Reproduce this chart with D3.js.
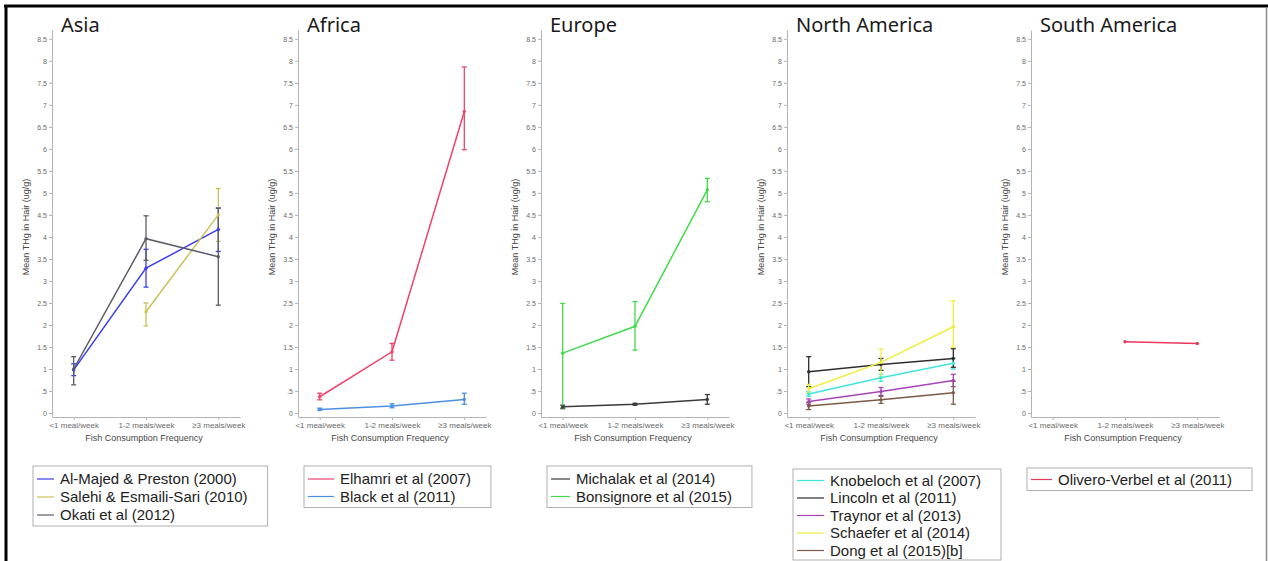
<!DOCTYPE html>
<html>
<head>
<meta charset="utf-8">
<script src="https://cdn.jsdelivr.net/npm/d3@7"></script>
<style>
  html, body { margin: 0; padding: 0; background: #fff; }
  svg { display: block; }
</style>
</head>
<body>
<svg id="chart" width="1268" height="561"></svg>
<script>
// ---- Data ---------------------------------------------------------------
const categories = ["<1 meal/week", "1-2 meals/week", "\u22653 meals/week"];
const regions = ["Asia", "Africa", "Europe", "North America", "South America"];
const yTickValues = [0, 0.5, 1, 1.5, 2, 2.5, 3, 3.5, 4, 4.5, 5, 5.5, 6, 6.5, 7, 7.5, 8, 8.5];
const yTickLabels = ["0", ".5", "1", "1.5", "2", "2.5", "3", "3.5", "4", "4.5", "5", "5.5", "6", "6.5", "7", "7.5", "8", "8.5"];

// Mean THg in hair (ug/g) per consumption category, with error bar limits
// Asia
const alMajedMean = [0.98, 3.29, 4.17];
const alMajedLo   = [0.85, 2.86, 3.67];
const alMajedHi   = [1.12, 3.72, 4.66];
const salehiMean  = [null, 2.30, 4.50];
const salehiLo    = [null, 1.98, 3.90];
const salehiHi    = [null, 2.50, 5.10];
const okatiMean   = [1.00, 3.96, 3.55];
const okatiLo     = [0.64, 3.47, 2.45];
const okatiHi     = [1.28, 4.48, 4.65];
// Africa
const elhamriMean = [0.37, 1.39, 6.85];
const elhamriLo   = [0.30, 1.20, 5.98];
const elhamriHi   = [0.45, 1.58, 7.86];
const blackMean   = [0.08, 0.16, 0.31];
const blackLo     = [0.06, 0.12, 0.20];
const blackHi     = [0.11, 0.21, 0.45];
// Europe
const michalakMean   = [0.14, 0.20, 0.31];
const michalakLo     = [0.10, 0.18, 0.20];
const michalakHi     = [0.18, 0.22, 0.42];
const bonsignoreMean = [1.36, 1.97, 5.07];
const bonsignoreLo   = [0.12, 1.43, 4.80];
const bonsignoreHi   = [2.49, 2.53, 5.33];
// North America
const knobelochMean = [0.43, 0.80, 1.13];
const knobelochLo   = [0.38, 0.72, 1.00];
const knobelochHi   = [0.48, 0.88, 1.25];
const lincolnMean   = [0.94, 1.10, 1.24];
const lincolnLo     = [0.60, 0.97, 1.04];
const lincolnHi     = [1.28, 1.24, 1.46];
const traynorMean   = [0.26, 0.49, 0.74];
const traynorLo     = [0.20, 0.40, 0.60];
const traynorHi     = [0.32, 0.58, 0.88];
const schaeferMean  = [0.55, 1.15, 1.96];
const schaeferLo    = [0.45, 0.82, 1.50];
const schaeferHi    = [0.65, 1.45, 2.55];
const dongMean      = [0.16, 0.30, 0.46];
const dongLo        = [0.08, 0.22, 0.20];
const dongHi        = [0.24, 0.38, 0.72];
// South America
const oliveroMean = [null, 1.62, 1.58];

// Series table built from the arrays above
const series = [
  { region: "Asia", name: "Al-Majed & Preston (2000)", color: "#3d3df0", mean: alMajedMean, lo: alMajedLo, hi: alMajedHi },
  { region: "Asia", name: "Salehi & Esmaili-Sari (2010)", color: "#cbc25a", mean: salehiMean, lo: salehiLo, hi: salehiHi },
  { region: "Asia", name: "Okati et al (2012)", color: "#5c5c68", mean: okatiMean, lo: okatiLo, hi: okatiHi },
  { region: "Africa", name: "Elhamri et al (2007)", color: "#f0426b", mean: elhamriMean, lo: elhamriLo, hi: elhamriHi },
  { region: "Africa", name: "Black et al (2011)", color: "#4d8fe0", mean: blackMean, lo: blackLo, hi: blackHi },
  { region: "Europe", name: "Michalak et al (2014)", color: "#3a3a3a", mean: michalakMean, lo: michalakLo, hi: michalakHi },
  { region: "Europe", name: "Bonsignore et al (2015)", color: "#3fdc4a", mean: bonsignoreMean, lo: bonsignoreLo, hi: bonsignoreHi },
  { region: "North America", name: "Knobeloch et al (2007)", color: "#3fe6de", mean: knobelochMean, lo: knobelochLo, hi: knobelochHi },
  { region: "North America", name: "Lincoln et al (2011)", color: "#2e2e2e", mean: lincolnMean, lo: lincolnLo, hi: lincolnHi },
  { region: "North America", name: "Traynor et al (2013)", color: "#a844b8", mean: traynorMean, lo: traynorLo, hi: traynorHi },
  { region: "North America", name: "Schaefer et al (2014)", color: "#f0ee3c", mean: schaeferMean, lo: schaeferLo, hi: schaeferHi },
  { region: "North America", name: "Dong et al (2015)[b]", color: "#7d5a48", mean: dongMean, lo: dongLo, hi: dongHi },
  { region: "South America", name: "Olivero-Verbel et al (2011)", color: "#e8385c", mean: oliveroMean, lo: null, hi: null }
];

// ---- Layout -------------------------------------------------------------
const panelAxisX = [52, 298, 541, 787, 1031];
const plotWidth = 188;
const yTop = 30, yBottom = 417;
const legendLayout = [
  { x: 33, y: 466, textOffset: 27, first: 13, row: 18 },
  { x: 304, y: 466, textOffset: 36, first: 13, row: 17.5 },
  { x: 547, y: 466, textOffset: 29, first: 13, row: 17.5 },
  { x: 793, y: 469, textOffset: 37, first: 11.5, row: 17.5 },
  { x: 1027, y: 468, textOffset: 31, first: 11.5, row: 17.5 }
];

const svg = d3.select("#chart");

// figure frame
svg.append("line").attr("x1", 4).attr("x2", 1268).attr("y1", 6).attr("y2", 6)
  .attr("stroke", "#000").attr("stroke-width", 3);
svg.append("line").attr("x1", 6).attr("x2", 6).attr("y1", 5).attr("y2", 561)
  .attr("stroke", "#000").attr("stroke-width", 3);
svg.append("line").attr("x1", 1266.5).attr("x2", 1266.5).attr("y1", 7).attr("y2", 561)
  .attr("stroke", "#8a8a8a").attr("stroke-width", 1.5);

const y = d3.scaleLinear().domain([-0.09, 8.7]).range([yBottom, yTop]);

regions.forEach((region, pi) => {
  const ax = panelAxisX[pi];
  const x = d3.scalePoint().domain(categories).range([ax, ax + plotWidth]).padding(0.3);
  const g = svg.append("g");

  // title
  g.append("text").attr("x", ax + 9).attr("y", 32)
    .attr("font-family", "'Noto Sans', sans-serif").attr("font-size", 20)
    .attr("fill", "#1a1a1a").text(region);

  // y axis
  const yAxis = g.append("g").attr("transform", `translate(${ax},0)`)
    .call(d3.axisLeft(y).tickValues(yTickValues)
      .tickFormat((d, i) => yTickLabels[i]).tickSize(3).tickSizeOuter(0).tickPadding(2));
  yAxis.selectAll("path, line").attr("stroke", "#b4b4b4");
  yAxis.selectAll("text").attr("font-family", "'Liberation Sans', Arial, sans-serif")
    .attr("font-size", 7).attr("fill", "#6a6a6a");

  // x axis
  const xAxis = g.append("g").attr("transform", `translate(0,${yBottom})`)
    .call(d3.axisBottom(x).tickSize(3).tickSizeOuter(0).tickPadding(2));
  xAxis.selectAll("path, line").attr("stroke", "#b4b4b4");
  xAxis.selectAll("text").attr("font-family", "'Liberation Sans', Arial, sans-serif")
    .attr("font-size", 8).attr("fill", "#6a6a6a");

  // axis titles
  g.append("text").attr("transform", `translate(${ax - 23},227) rotate(-90)`)
    .attr("text-anchor", "middle").attr("font-family", "'Liberation Sans', Arial, sans-serif")
    .attr("font-size", 9).attr("fill", "#474747").text("Mean THg in Hair (ug/g)");
  g.append("text").attr("x", ax + plotWidth / 2 - 2).attr("y", 441)
    .attr("text-anchor", "middle").attr("font-family", "'Liberation Sans', Arial, sans-serif")
    .attr("font-size", 9).attr("fill", "#474747").text("Fish Consumption Frequency");

  const regionSeries = series.filter(s => s.region === region);

  // error bars
  regionSeries.forEach(s => {
    if (!s.lo) return;
    categories.forEach((c, i) => {
      if (s.mean[i] == null) return;
      const cx = x(c);
      const eg = g.append("g").attr("stroke", s.color).attr("stroke-width", 1.3);
      eg.append("line").attr("x1", cx).attr("x2", cx).attr("y1", y(s.lo[i])).attr("y2", y(s.hi[i]));
      eg.append("line").attr("x1", cx - 2.5).attr("x2", cx + 2.5).attr("y1", y(s.lo[i])).attr("y2", y(s.lo[i]));
      eg.append("line").attr("x1", cx - 2.5).attr("x2", cx + 2.5).attr("y1", y(s.hi[i])).attr("y2", y(s.hi[i]));
    });
  });

  // lines and points
  regionSeries.forEach(s => {
    const pts = categories.map((c, i) => ({ c, v: s.mean[i] })).filter(d => d.v != null);
    const line = d3.line().x(d => x(d.c)).y(d => y(d.v));
    g.append("path").datum(pts).attr("d", line).attr("fill", "none")
      .attr("stroke", s.color).attr("stroke-width", 1.5);
    g.selectAll(null).data(pts).enter().append("circle")
      .attr("cx", d => x(d.c)).attr("cy", d => y(d.v)).attr("r", 1.7)
      .attr("fill", s.color);
  });

  // legend
  const L = legendLayout[pi];
  const lg = svg.append("g");
  const box = lg.append("rect").attr("x", L.x).attr("y", L.y)
    .attr("fill", "#fff").attr("stroke", "#b0b0b0").attr("stroke-width", 1);
  let maxW = 0;
  regionSeries.forEach((s, i) => {
    const cy = L.y + L.first + i * L.row;
    lg.append("line").attr("x1", L.x + 4).attr("x2", L.x + L.textOffset - 6)
      .attr("y1", cy).attr("y2", cy).attr("stroke", s.color).attr("stroke-width", 1.2);
    const t = lg.append("text").attr("x", L.x + L.textOffset).attr("y", cy + 5)
      .attr("font-family", "'Liberation Sans', Arial, sans-serif").attr("font-size", 15)
      .attr("fill", "#222").text(s.name);
    maxW = Math.max(maxW, t.node().getComputedTextLength());
  });
  const h = L.first + (regionSeries.length - 1) * L.row + 11;
  box.attr("width", L.textOffset + maxW + 20)
    .attr("height", Math.min(h, 560 - L.y));
});
</script>
</body>
</html>
